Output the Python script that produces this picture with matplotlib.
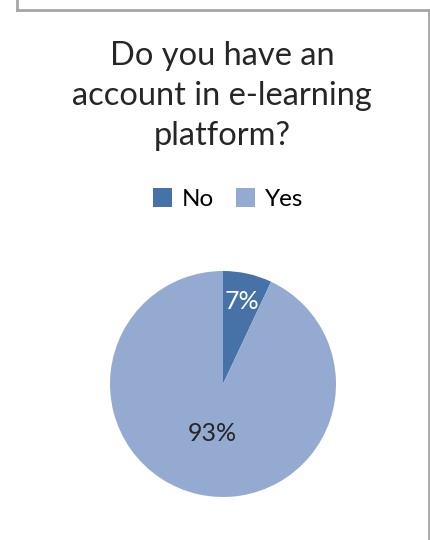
import matplotlib.pyplot as plt
from matplotlib.lines import Line2D

labels = ["No", "Yes"]
values = [7, 93]
colors = ["#4672A8", "#94AAD0"]
title = "Do you have an\naccount in e-learning\nplatform?"

W, H = 430, 540
fig = plt.figure(figsize=(W / 100, H / 100), dpi=100)
fig.patch.set_facecolor("white")

# chart frame (no bottom edge visible)
for xs, ys in [([16.5, 16.5], [0, 10]), ([16.5, 429], [10, 10]), ([429, 429], [10, 540])]:
    fig.add_artist(Line2D([x / W for x in xs], [1 - y / H for y in ys],
                          color="#a6a6a6", lw=2, transform=fig.transFigure))

plt.rcParams["font.family"] = ["Lato", "DejaVu Sans"]

fig.text(222 / W, 1 - 96 / H, title, ha="center", va="center",
         fontsize=23.5, linespacing=1.42, color="#262626")

# pie
cx, cy, r = 223, 384, 113
ax = fig.add_axes([(cx - r) / W, 1 - (cy + r) / H, 2 * r / W, 2 * r / H])
wedges, texts, autotexts = ax.pie(values, colors=colors, startangle=90,
                                  counterclock=False, autopct="%d%%",
                                  pctdistance=0.75,
                                  textprops=dict(fontsize=18))
autotexts[0].set_color("white")
autotexts[1].set_color("#262626")
x, y = autotexts[1].get_position()
autotexts[1].set_position((x * 0.6, y * 0.6))
ax.set_xlim(-1, 1)
ax.set_ylim(-1, 1)

fig.legend(wedges, labels, loc="center", bbox_to_anchor=(228 / W, 1 - 199 / H),
           ncol=2, frameon=False, fontsize=17.5, handlelength=0.8, handleheight=0.8,
           handletextpad=0.4, columnspacing=0.9)

fig.savefig("out.png", dpi=100)
